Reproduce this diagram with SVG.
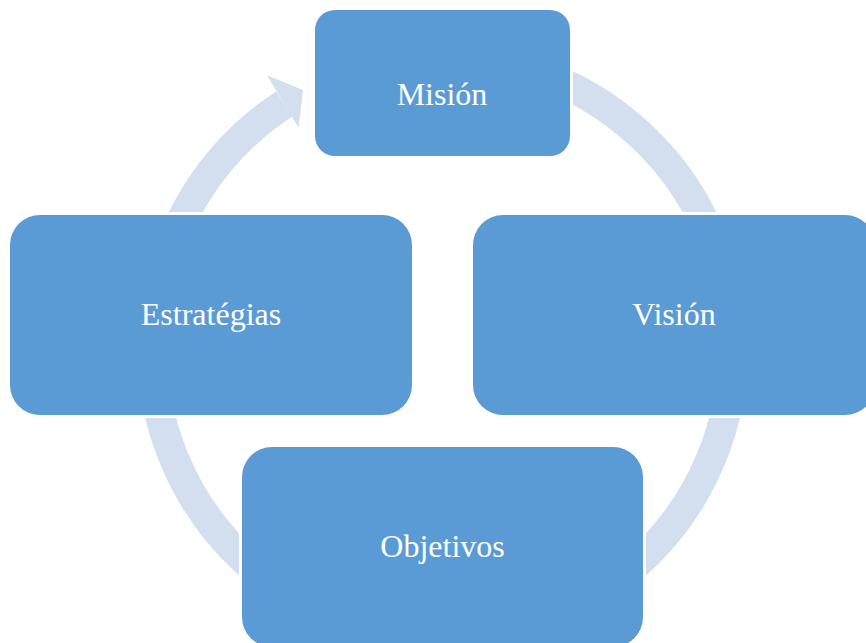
<svg xmlns="http://www.w3.org/2000/svg" width="866" height="643" viewBox="0 0 866 643">
<style>
.ring{fill:none;stroke:#D3DEEF;stroke-width:30}
.head{fill:#D3DEEF}
.box{fill:#5B9BD5;stroke:#FFFFFF;stroke-width:6;paint-order:stroke}
.lbl{fill:#FFFFFF;font-family:"Liberation Serif","Times New Roman",serif;font-size:32px;text-anchor:middle}
</style>
<rect width="866" height="643" fill="#FFFFFF"/>
<g id="connectors">
<path class="ring" d="M517.7,67.0 A290.5,290.5 0 1 1 284.3,104.0"/>
<polygon class="head" points="267.0,75.2 303,90 298.5,127.5"/>
</g>
<g id="node-mision">
<rect class="box" x="315" y="10" width="255" height="146" rx="20" ry="20"/>
<text class="lbl" x="442" y="105">Misión</text>
</g>
<g id="node-vision">
<rect class="box" x="473" y="215" width="402" height="200" rx="30" ry="30"/>
<text class="lbl" x="674" y="325">Visión</text>
</g>
<g id="node-objetivos">
<rect class="box" x="242" y="447" width="401" height="200" rx="30" ry="30"/>
<text class="lbl" x="442.5" y="557">Objetivos</text>
</g>
<g id="node-estrategias">
<rect class="box" x="10" y="215" width="402" height="200" rx="30" ry="30"/>
<text class="lbl" x="211" y="325">Estratégias</text>
</g>
</svg>
